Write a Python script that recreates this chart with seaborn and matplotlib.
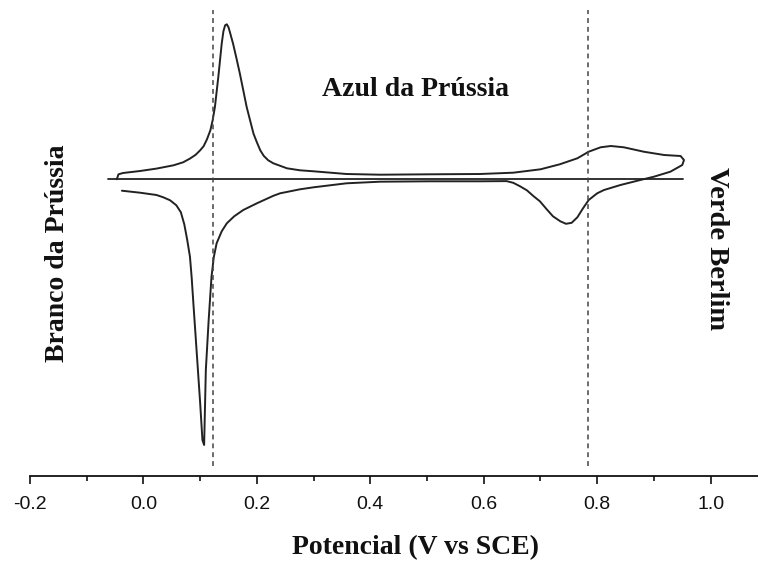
import matplotlib
matplotlib.use("Agg")
import matplotlib.pyplot as plt
from matplotlib.ticker import MultipleLocator
import seaborn as sns
import pandas as pd

# Anodic sweep (upper branch), potential in V vs SCE, current in arbitrary units
v_forward = [-0.047, -0.044, -0.036, -0.006, 0.023, 0.053, 0.070, 0.082, 0.092, 0.100,
             0.106, 0.112, 0.118, 0.122, 0.126, 0.132, 0.138, 0.141, 0.144, 0.147,
             0.150, 0.153, 0.158, 0.164, 0.170, 0.182, 0.194, 0.200, 0.206, 0.212,
             0.220, 0.229, 0.241, 0.253, 0.276, 0.300, 0.358, 0.417, 0.505, 0.593,
             0.652, 0.700, 0.734, 0.765, 0.785, 0.806, 0.824, 0.847, 0.882, 0.918,
             0.947, 0.953]
i_forward = [0.0, 0.05, 0.063, 0.083, 0.107, 0.14, 0.17, 0.207, 0.245, 0.29,
             0.33, 0.40, 0.49, 0.59, 0.723, 1.023, 1.357, 1.48, 1.54, 1.55,
             1.52, 1.46, 1.357, 1.21, 1.057, 0.723, 0.457, 0.37, 0.29, 0.235,
             0.19, 0.16, 0.135, 0.11, 0.09, 0.08, 0.053, 0.046, 0.05, 0.053,
             0.066, 0.10, 0.15, 0.21, 0.276, 0.32, 0.333, 0.32, 0.276, 0.243,
             0.233, 0.193]

# Cathodic sweep (lower branch)
v_reverse = [0.950, 0.929, 0.900, 0.876, 0.841, 0.812, 0.800, 0.785, 0.775, 0.765,
             0.755, 0.745, 0.735, 0.722, 0.711, 0.699, 0.688, 0.676, 0.664, 0.652,
             0.640, 0.593, 0.505, 0.417, 0.358, 0.300, 0.276, 0.241, 0.229, 0.200,
             0.176, 0.160, 0.147, 0.138, 0.129, 0.124, 0.120, 0.115, 0.110, 0.108,
             0.107, 0.104, 0.100, 0.094, 0.088, 0.085, 0.082, 0.077, 0.072, 0.066,
             0.058, 0.047, 0.035, 0.023, -0.006, -0.038]
i_reverse = [0.143, 0.076, 0.026, -0.007, -0.057, -0.107, -0.14, -0.207, -0.29, -0.38,
             -0.435, -0.445, -0.42, -0.37, -0.30, -0.22, -0.17, -0.11, -0.07, -0.035,
             -0.018, -0.02, -0.02, -0.024, -0.04, -0.08, -0.10, -0.14, -0.165, -0.24,
             -0.307, -0.37, -0.44, -0.52, -0.64, -0.78, -0.974, -1.407, -1.907, -2.407,
             -2.657, -2.607, -2.237, -1.737, -1.237, -0.98, -0.774, -0.60, -0.45, -0.33,
             -0.26, -0.21, -0.18, -0.157, -0.134, -0.114]

# Zero-current reference line
v_zero = [-0.062, 0.951]
i_zero = [0.0, 0.0]

# Marked potentials (dashed lines)
v_marks = [0.123, 0.783]

x_ticks = [-0.2, 0.0, 0.2, 0.4, 0.6, 0.8, 1.0]

labels = {
    "azul": "Azul da Prússia",
    "branco": "Branco da Prússia",
    "verde": "Verde Berlim",
    "xlabel": "Potencial (V vs SCE)",
}

sns.set_style("ticks")
plt.rcParams["font.family"] = ["Liberation Sans", "DejaVu Sans"]

cv = pd.DataFrame({
    "E": v_forward + v_reverse,
    "I": i_forward + i_reverse,
})
zero = pd.DataFrame({"E": v_zero, "I": i_zero})

fig = plt.figure(figsize=(7.58, 5.62), dpi=100)
ax = fig.add_axes([30 / 758, 1 - 475.7 / 562, 728 / 758, 475.7 / 562])

line_col = "#222222"
sns.lineplot(data=zero, x="E", y="I", sort=False, estimator=None, ax=ax,
             color=line_col, lw=1.3)
sns.lineplot(data=cv, x="E", y="I", sort=False, estimator=None, ax=ax,
             color=line_col, lw=1.4, solid_joinstyle="round", solid_capstyle="round")

ax.vlines(v_marks, -2.87, 1.69, colors="#444444", linestyles=(0, (3.2, 2.6)), lw=1.1)

ax.set_xlim(-0.2, -0.2 + 728 / 567.2)
ax.set_ylim(-2.964, 1.793)

sns.despine(ax=ax, left=True, top=True, right=True)
ax.spines["bottom"].set_linewidth(1.3)
ax.spines["bottom"].set_color("#111111")
ax.set_yticks([])
ax.set_ylabel("")
ax.set_xticks(x_ticks)
ax.set_xticklabels([f"{t:.1f}" for t in x_ticks])
ax.xaxis.set_minor_locator(MultipleLocator(0.1))
ax.tick_params(axis="x", which="major", direction="out", length=5.5, width=1.2,
               pad=9, labelsize=14, colors="#111111")
ax.tick_params(axis="x", which="minor", direction="out", length=3.8, width=1.2,
               colors="#111111")
ax.set_xlabel("")

serif = ["Liberation Serif", "DejaVu Serif"]
fig.text(415 / 758, 1 - 548 / 562, labels["xlabel"], ha="center", va="center",
         fontsize=20, fontweight="bold", family=serif, color="#111111")
fig.text(415 / 758, 1 - 89 / 562, labels["azul"], ha="center", va="center",
         fontsize=20, fontweight="bold", family=serif, color="#111111")
fig.text(58 / 758, 1 - 253 / 562, labels["branco"], ha="center", va="center",
         rotation=90, fontsize=20, fontweight="bold", family=serif, color="#111111")
fig.text(717 / 758, 1 - 249 / 562, labels["verde"], ha="center", va="center",
         rotation=-90, fontsize=20.5, fontweight="bold", family=serif, color="#111111")

fig.savefig("out.png", dpi=100)
